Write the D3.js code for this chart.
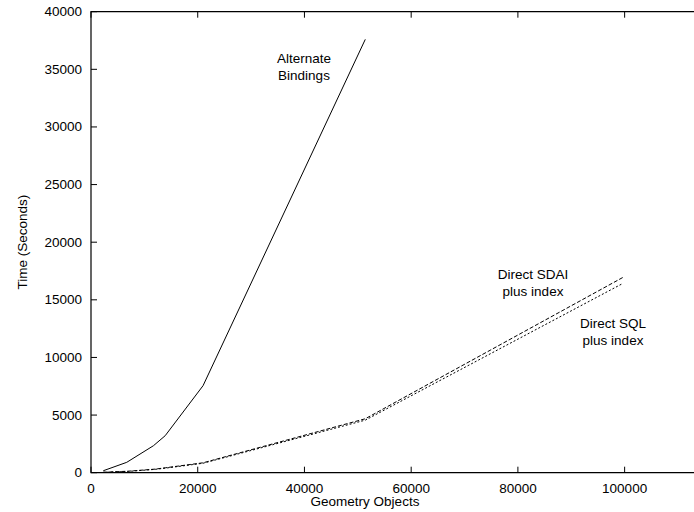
<!DOCTYPE html>
<html>
<head>
<meta charset="utf-8">
<script src="https://cdn.jsdelivr.net/npm/d3@7"></script>
<style>
  body { margin: 0; background: #fff; }
  text { font-family: "Liberation Sans", Arial, sans-serif; font-size: 13.5px; fill: #000; }
</style>
</head>
<body>
<div id="chart"></div>
<script>
// data
const altX = [2300, 6700, 11700, 13900, 21000, 51400];
const altY = [170, 900, 2340, 3210, 7550, 37600];
const directX = [2300, 7000, 12000, 14000, 21000, 51400, 99700];
const sdaiY = [40, 130, 310, 430, 860, 4680, 16950];
const sqlY = [30, 110, 290, 400, 820, 4560, 16430];
const xTicks = [0, 20000, 40000, 60000, 80000, 100000];
const yTicks = [0, 5000, 10000, 15000, 20000, 25000, 30000, 35000, 40000];

const width = 694, height = 512;
const plotLeft = 91, plotTop = 11.7, plotBottom = 472.7, plotRight = 694;

const svg = d3.select("#chart").append("svg")
    .attr("width", width)
    .attr("height", height);

const x = d3.scaleLinear().domain([0, 113000]).range([plotLeft, plotRight]);
const y = d3.scaleLinear().domain([0, 40000]).range([plotBottom, plotTop]);

// ticks, inward, mirrored on top
const tickLen = 6;
for (const t of xTicks) {
    const px = x(t);
    svg.append("line").attr("x1", px).attr("x2", px).attr("y1", plotBottom).attr("y2", plotBottom - tickLen)
        .attr("stroke", "#000").attr("stroke-width", 1);
    svg.append("line").attr("x1", px).attr("x2", px).attr("y1", plotTop).attr("y2", plotTop + tickLen)
        .attr("stroke", "#000").attr("stroke-width", 1);
    svg.append("text")
        .attr("x", px)
        .attr("y", 492.5)
        .style("text-anchor", "middle")
        .text(t);
}
for (const t of yTicks) {
    const py = y(t);
    svg.append("line").attr("x1", plotLeft).attr("x2", plotLeft + tickLen).attr("y1", py).attr("y2", py)
        .attr("stroke", "#000").attr("stroke-width", 1);
    svg.append("text")
        .attr("x", 82)
        .attr("y", py)
        .style("text-anchor", "end")
        .style("dominant-baseline", "central")
        .text(t);
}

// frame (right side falls off the picture)
svg.append("path")
    .attr("d", `M${plotRight},${plotTop}H${plotLeft}V${plotBottom}H${plotRight}`)
    .attr("fill", "none")
    .attr("stroke", "#000")
    .attr("stroke-width", 1.2);

// axis titles
svg.append("text")
    .attr("x", 365)
    .attr("y", 506)
    .style("text-anchor", "middle")
    .text("Geometry Objects");

svg.append("text")
    .attr("transform", `translate(22,${(plotTop + plotBottom) / 2}) rotate(-90)`)
    .style("text-anchor", "middle")
    .style("dominant-baseline", "central")
    .text("Time (Seconds)");

// series
const line = d3.line().x(d => x(d[0])).y(d => y(d[1]));

function drawSeries(xs, ys, dash) {
    svg.append("path")
        .datum(xs.map((v, i) => [v, ys[i]]))
        .attr("d", line)
        .attr("fill", "none")
        .attr("stroke", "#000")
        .attr("stroke-width", 1)
        .attr("stroke-dasharray", dash);
}

drawSeries(altX, altY, null);
drawSeries(directX, sdaiY, "4,2");
drawSeries(directX, sqlY, "2,2");

// labels on the lines
function label(lines, cx, baseline) {
    lines.forEach((s, i) => {
        svg.append("text")
            .attr("x", cx)
            .attr("y", baseline + i * 16.5)
            .style("text-anchor", "middle")
            .text(s);
    });
}
label(["Alternate", "Bindings"], 304, 63.3);
label(["Direct SDAI", "plus index"], 533, 279.3);
label(["Direct SQL", "plus index"], 613, 328.3);
</script>
</body>
</html>
